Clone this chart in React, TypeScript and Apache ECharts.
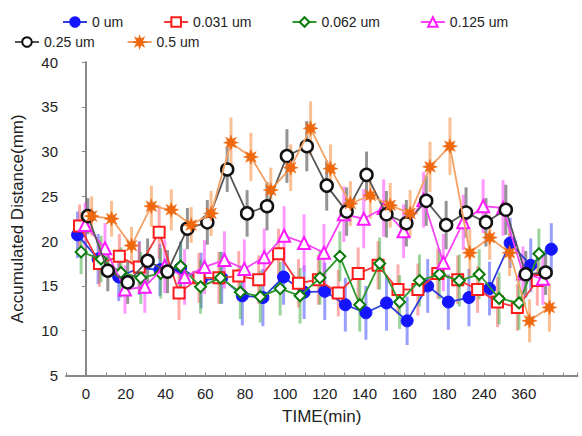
import React, { useEffect, useRef } from "react";
import * as echarts from "echarts";

// ---- data ----
const xTickLabels = ["0", "20", "40", "60", "80", "100", "120", "140", "160", "180", "240", "360"];
const seriesNames = ["0 um", "0.031 um", "0.062 um", "0.125 um", "0.25 um", "0.5 um"];

const um0 = [20.7, 18.0, 16.0, 17.0, 16.8, 17.0, 15.6, 15.9, 13.9, 13.7, 16.0, 14.3, 14.4, 12.9, 12.0, 13.1, 11.1, 15.0, 13.2, 13.7, 14.7, 19.8, 17.3, 19.1];
const um0Err = [2.6, 2.8, 2.7, 3.0, 2.9, 3.0, 3.1, 2.9, 3.3, 3.2, 3.1, 3.0, 3.2, 3.0, 3.0, 3.1, 2.7, 3.0, 3.1, 3.2, 3.0, 2.8, 3.0, 2.9];
const um031 = [21.7, 17.5, 18.3, 17.1, 21.0, 14.2, 15.9, 15.9, 16.1, 15.7, 18.6, 15.3, 15.7, 14.2, 16.4, 17.3, 14.6, 14.6, 16.4, 15.7, 14.6, 13.2, 12.6, 15.6];
const um031Err = [2.4, 2.6, 2.5, 2.8, 3.0, 3.0, 2.8, 2.9, 2.8, 2.7, 2.8, 2.7, 2.8, 2.6, 2.9, 2.7, 2.8, 2.9, 2.8, 2.7, 2.6, 2.8, 2.6, 2.8];
const um062 = [18.8, 18.0, 16.5, 15.9, 16.4, 17.2, 14.9, 15.9, 14.3, 13.8, 14.7, 13.9, 15.9, 18.3, 12.9, 17.5, 13.2, 15.6, 16.3, 15.6, 16.3, 13.6, 13.1, 18.6];
const um062Err = [2.5, 2.6, 2.8, 2.9, 2.8, 2.7, 3.0, 2.9, 3.0, 2.9, 3.0, 3.1, 3.0, 2.8, 3.0, 2.9, 3.0, 2.9, 2.8, 2.9, 2.8, 2.9, 3.0, 2.8];
const um125 = [21.8, 19.2, 14.6, 14.9, 17.2, 16.0, 17.1, 17.9, 16.9, 18.2, 20.6, 19.8, 18.7, 23.0, 22.5, 23.7, 21.1, 24.6, 17.6, 22.1, 23.9, 23.7, 16.4, 15.8];
const um125Err = [2.5, 2.8, 2.7, 2.9, 3.0, 3.1, 3.0, 3.2, 3.3, 3.2, 3.3, 3.2, 3.2, 3.1, 3.3, 3.2, 3.0, 3.1, 3.2, 3.1, 3.0, 3.1, 3.0, 2.9];
const um25 = [22.8, 16.7, 15.4, 17.8, 16.6, 21.4, 22.1, 28.0, 23.1, 23.9, 29.5, 30.6, 26.2, 23.3, 27.4, 23.0, 22.0, 24.5, 21.8, 23.2, 22.1, 23.5, 16.3, 16.5];
const um25Err = [2.0, 2.3, 2.4, 2.5, 2.4, 2.3, 2.5, 2.5, 2.6, 2.7, 3.0, 2.8, 2.8, 2.7, 2.6, 2.6, 2.6, 2.8, 2.7, 2.8, 2.7, 2.8, 2.6, 2.5];
const um5 = [22.8, 22.5, 19.5, 23.9, 23.5, 21.8, 23.1, 31.0, 29.4, 25.7, 28.2, 32.6, 28.1, 24.2, 25.1, 24.0, 23.1, 28.3, 30.6, 18.7, 20.4, 18.7, 11.1, 12.6];
const um5Err = [2.2, 2.0, 2.1, 2.3, 2.3, 2.0, 2.5, 2.8, 2.7, 2.5, 2.6, 3.0, 2.7, 2.5, 2.6, 2.5, 2.6, 2.8, 3.2, 2.6, 2.5, 2.6, 2.4, 2.7];

const allValues = [um0, um031, um062, um125, um25, um5];
const allErrors = [um0Err, um031Err, um062Err, um125Err, um25Err, um5Err];

// ---- styles ----
const lineColors = ["#2f3fdc", "#f23a3a", "#2c9a2c", "#f545f5", "#555555", "#f2a064"];
const barColors = ["rgba(70,80,255,0.55)", "rgba(255,90,90,0.5)", "rgba(60,170,60,0.5)", "rgba(255,70,255,0.55)", "rgba(60,60,60,0.55)", "rgba(245,140,60,0.55)"];
const xOffsets = [-0.42, -0.32, -0.24, -0.04, 0.1, 0.29];
const xSteps = [1.035, 1.0, 1.0, 1.0, 1.0, 1.0];

const starPath = (() => {
  let d = "";
  for (let i = 0; i < 16; i++) {
    const a = (Math.PI * 2 * i) / 16 - Math.PI / 2;
    const r = i % 2 === 0 ? 50 : 24;
    const x = 50 + r * Math.cos(a);
    const y = 50 + r * Math.sin(a);
    d += (i === 0 ? "M" : "L") + x.toFixed(2) + " " + y.toFixed(2) + " ";
  }
  return "path://" + d + "Z";
})();

const markerStyles = [
  { symbol: "circle", size: 12, fill: "#1414ff", border: "#1414ff", bw: 1 },
  { symbol: "rect", size: 11, fill: "#ffffff", border: "#ff1a1a", bw: 2 },
  { symbol: "diamond", size: 11, fill: "#ffffff", border: "#0a7a0a", bw: 2 },
  { symbol: "triangle", size: 12, fill: "#ffffff", border: "#ff1aff", bw: 2 },
  { symbol: "circle", size: 12, fill: "#ffffff", border: "#111111", bw: 2.5 },
  { symbol: starPath, size: 15, fill: "#f0680e", border: "#f0680e", bw: 0.5 },
];

const FONT = 'Arial, "Liberation Sans", sans-serif';

export default function App() {
  const ref = useRef<HTMLDivElement>(null);
  useEffect(() => {
    if (!ref.current) return;
    const chart = echarts.init(ref.current, undefined, { renderer: "svg" });
    const series: any[] = [];
    allValues.forEach((vals, s) => {
      const pts = vals.map((v, k) => [k * xSteps[s] + xOffsets[s], v, allErrors[s][k]]);
      series.push({
        type: "custom",
        name: seriesNames[s] + " err",
        z: 1,
        data: pts,
        encode: { x: 0, y: 1 },
        renderItem: (params: any, api: any) => {
          const x = api.value(0);
          const y = api.value(1);
          const e = api.value(2);
          const p1 = api.coord([x, y + e]);
          const p2 = api.coord([x, y - e]);
          return {
            type: "line",
            shape: { x1: p1[0], y1: p1[1], x2: p2[0], y2: p2[1] },
            style: { stroke: barColors[s], lineWidth: 3 },
          };
        },
      });
    });
    allValues.forEach((vals, s) => {
      const m = markerStyles[s];
      series.push({
        type: "line",
        name: seriesNames[s],
        z: 3 + s,
        data: vals.map((v, k) => [k * xSteps[s] + xOffsets[s], v]),
        symbol: m.symbol,
        symbolSize: m.size,
        showAllSymbol: true,
        lineStyle: { color: lineColors[s], width: 1.8 },
        itemStyle: { color: m.fill, borderColor: m.border, borderWidth: m.bw },
      });
    });
    const legendCommon = {
      itemWidth: 24,
      itemHeight: 12,
      textStyle: { fontSize: 14, fontFamily: FONT, color: "#222" },
      orient: "horizontal",
    };
    chart.setOption({
      animation: false,
      legend: [
        { ...legendCommon, left: 57, top: 10, itemGap: 40, data: seriesNames.slice(0, 4) },
        { ...legendCommon, left: 9, top: 30, itemGap: 32, data: seriesNames.slice(4) },
      ],
      grid: { left: 66, right: 4.5, top: 62, bottom: 60.5 },
      xAxis: {
        type: "value",
        min: -1,
        max: 24.7,
        interval: 1,
        name: "TIME(min)",
        nameLocation: "middle",
        nameGap: 32,
        nameTextStyle: { fontSize: 17, fontFamily: FONT, color: "#222" },
        axisLine: { lineStyle: { color: "#888", width: 2 } },
        axisTick: { inside: true, length: 3, lineStyle: { color: "#888" } },
        splitLine: { show: false },
        axisLabel: {
          fontSize: 15,
          fontFamily: FONT,
          color: "#222",
          margin: 10,
          showMinLabel: true,
          showMaxLabel: true,
          formatter: (v: number) => {
            const r = Math.round(v);
            if (Math.abs(v - r) > 1e-6 || r < 0 || r % 2 !== 0) return "";
            return xTickLabels[r / 2] ?? "";
          },
        },
      },
      yAxis: {
        type: "value",
        min: 5,
        max: 40,
        interval: 5,
        name: "Accumulated Distance(mm)",
        nameLocation: "middle",
        nameGap: 40,
        nameTextStyle: { fontSize: 17, fontFamily: FONT, color: "#222" },
        axisLine: { show: true, lineStyle: { color: "#888", width: 2 } },
        axisTick: { show: true, length: 4, lineStyle: { color: "#888" } },
        splitLine: { show: false },
        axisLabel: { fontSize: 15, fontFamily: FONT, color: "#222", margin: 8 },
      },
      series,
    });
    return () => chart.dispose();
  }, []);
  return (
    <div
      ref={ref}
      style={{ position: "absolute", left: 0, top: 0, width: 582, height: 436, background: "#fff" }}
    />
  );
}
